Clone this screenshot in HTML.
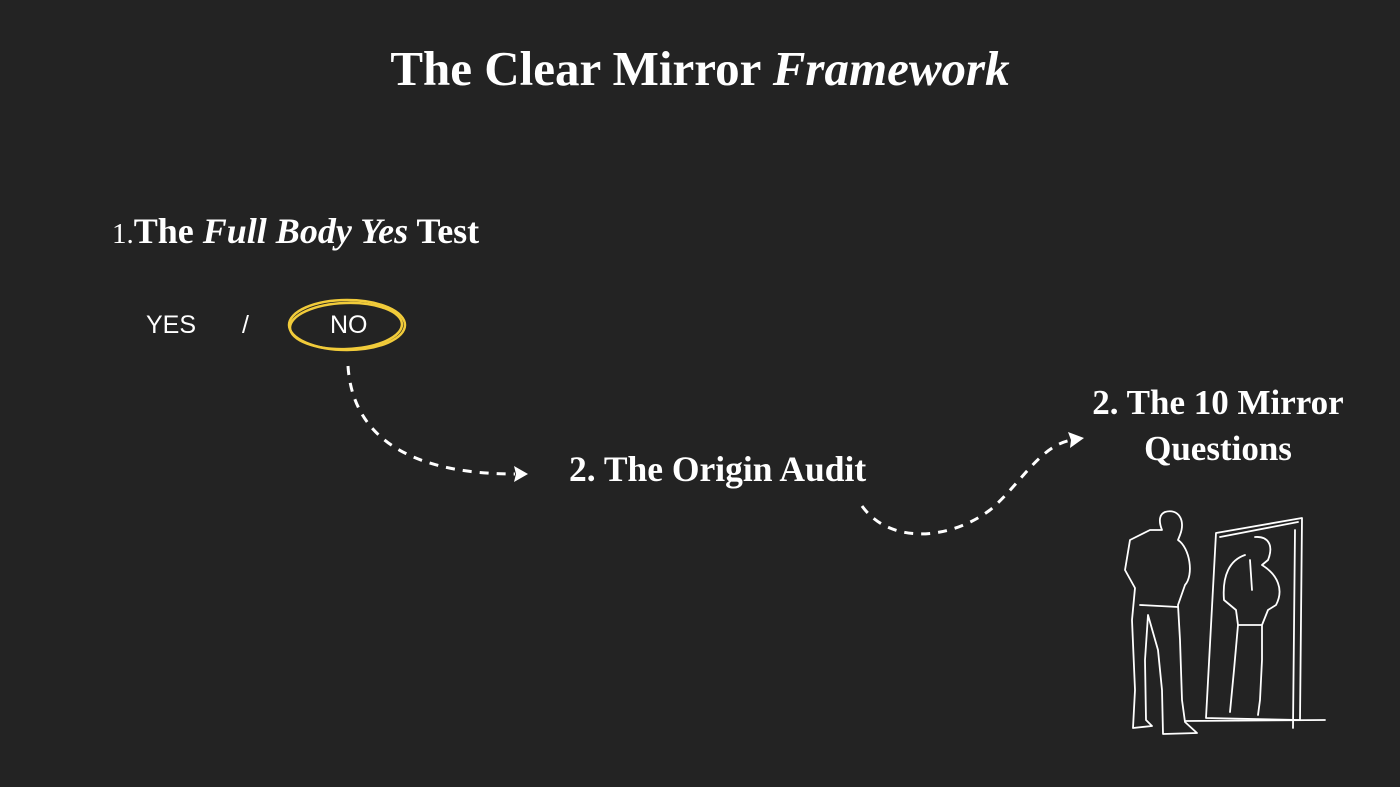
<!DOCTYPE html>
<html><head><style>
html,body{margin:0;padding:0;background:#232323;}
body{width:1400px;height:787px;position:relative;overflow:hidden;font-family:"Liberation Serif",serif;color:#fff;}
.t{position:absolute;white-space:nowrap;font-weight:bold;}
.s{position:absolute;font-family:"Liberation Sans",sans-serif;font-size:25px;color:#fff;}
</style></head><body>
<div class="t" style="left:0;width:1400px;text-align:center;top:40px;font-size:49px;">The Clear Mirror <i>Framework</i></div>
<div class="t" style="left:112px;top:210px;font-size:36px;"><span style="font-weight:normal;font-size:29px">1.</span>The <i>Full Body Yes</i> Test</div>
<div class="s" style="left:146px;top:311px;">YES</div>
<div class="s" style="left:242px;top:311px;">/</div>
<div class="s" style="left:330px;top:311px;">NO</div>
<div class="t" style="left:569px;top:448px;font-size:35.5px;">2. The Origin Audit</div>
<div class="t" style="left:1078px;width:280px;text-align:center;top:380px;font-size:35px;line-height:46px;">2. The 10 Mirror<br>Questions</div>
<svg width="1400" height="787" style="position:absolute;left:0;top:0" fill="none">
<g stroke="#f1cb3a" stroke-width="2.5">
<ellipse cx="347" cy="325" rx="58" ry="25"/>
<ellipse cx="346" cy="326" rx="56" ry="23" transform="rotate(-2 346 326)"/>
</g>
<g stroke="#fff" stroke-width="3" stroke-dasharray="9 8">
<path d="M348 366 C352 430 400 474 515 474"/>
<path d="M862 506 C890 545 950 540 990 510 C1020 485 1040 445 1072 440"/>
</g>
<g fill="#fff">
<path d="M528 474 L514 466 L516 474 L514 482 Z"/>
<path d="M1084 438 L1068 432 L1071 440 L1070 448 Z"/>
</g>
<g stroke="#fff" stroke-width="1.8" stroke-linejoin="round" stroke-linecap="round">
<path d="M1216 533 L1302 518 L1300 720 L1206 718 Z"/>
<path d="M1220 537 L1298 522"/>
<path d="M1295 530 L1293 728"/>
<path d="M1185 721 L1325 720"/>
<path d="M1165 512 C1178 508 1186 520 1180 535 L1178 540 C1190 548 1194 575 1185 585 L1178 605 L1180 640 L1182 700 L1185 722 L1197 733 L1163 734 L1162 690 L1158 650 L1148 615 L1145 660 L1146 720 L1152 726 L1133 728 L1135 690 L1132 620 L1135 588 L1125 570 L1130 540 L1150 530 L1162 530 C1158 520 1160 514 1165 512 Z"/>
<path d="M1140 605 L1178 607"/>
<path d="M1255 537 C1268 536 1274 545 1268 560 L1262 565 C1278 575 1284 590 1276 605 L1268 610 L1262 625 L1262 660 L1260 700 L1258 715 M1245 555 C1230 560 1222 575 1224 600 L1236 610 L1238 625 L1234 670 L1230 712 M1238 625 L1262 625 M1250 560 L1252 590"/>
</g>
</svg>
</body></html>
